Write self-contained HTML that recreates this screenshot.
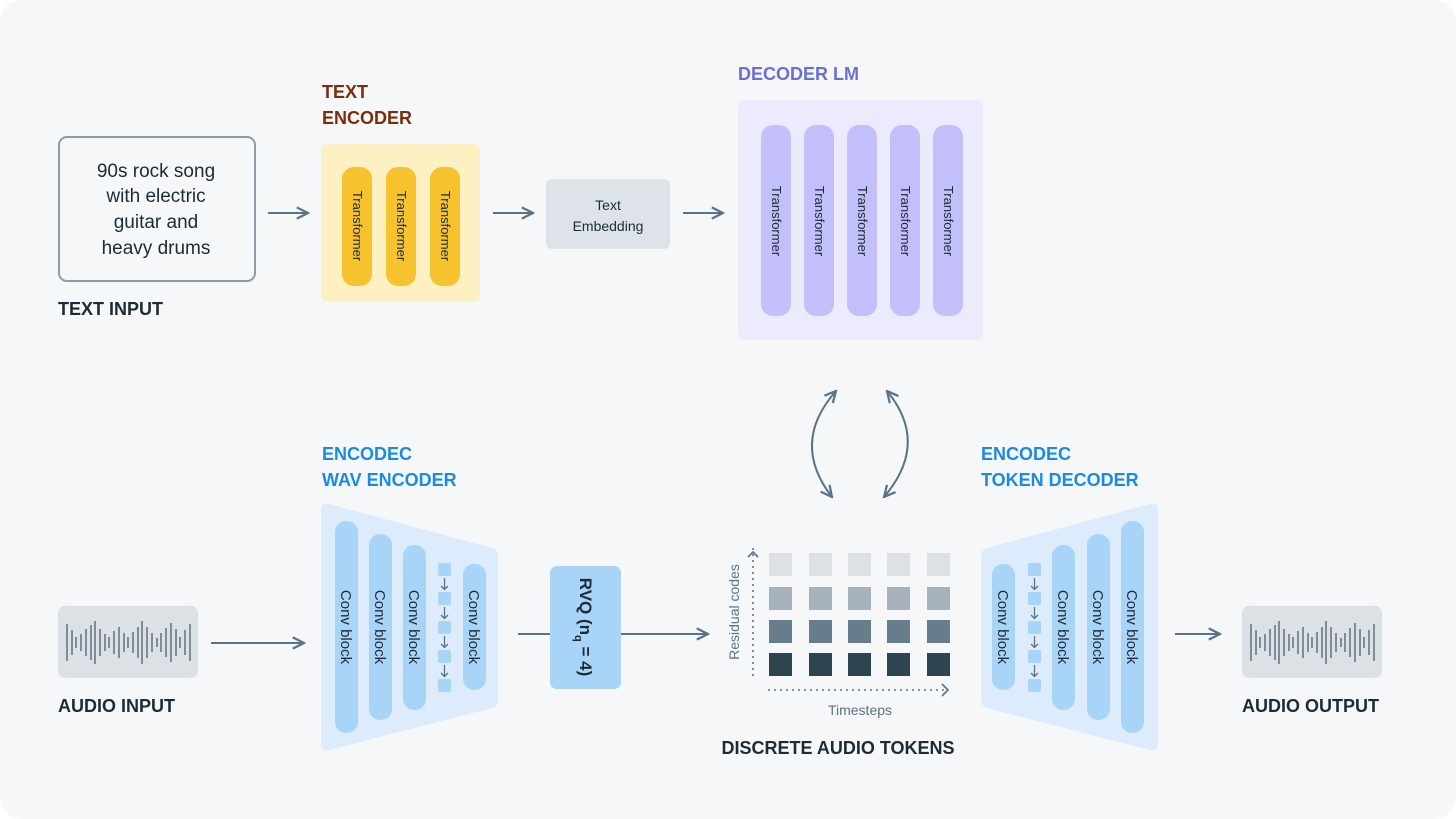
<!DOCTYPE html>
<html><head><meta charset="utf-8"><style>
html,body{margin:0;padding:0;background:#fff;width:1456px;height:819px;overflow:hidden}
svg{display:block;font-family:"Liberation Sans",sans-serif}
.h{font-weight:bold;font-size:18px}
</style></head><body>
<svg width="1456" height="819" viewBox="0 0 1456 819" xmlns="http://www.w3.org/2000/svg">
<defs>
<marker id="ah" viewBox="0 0 10 10" refX="9" refY="5" markerWidth="14" markerHeight="14" markerUnits="userSpaceOnUse" orient="auto-start-reverse">
<path d="M1,1 L9,5 L1,9" fill="none" stroke="#5a7385" stroke-width="1.6"/>
</marker>
</defs>
<rect x="0" y="0" width="1456" height="819" rx="22" fill="#f5f7f9"/>

<!-- text input -->
<rect x="59" y="137" width="196" height="144" rx="8" fill="none" stroke="#8a9cab" stroke-width="2"/>
<g font-size="19" fill="#1c2b36" text-anchor="middle">
<text x="156" y="177">90s rock song</text>
<text x="156" y="202">with electric</text>
<text x="156" y="228">guitar and</text>
<text x="156" y="254">heavy drums</text>
</g>
<text x="58" y="315" class="h" fill="#1c2b36">TEXT INPUT</text>
<line x1="268" y1="213" x2="308" y2="213" stroke="#5a7385" stroke-width="2" marker-end="url(#ah)"/>

<!-- text encoder -->
<text x="322" y="98" class="h" fill="#7a2e0e">TEXT</text>
<text x="322" y="124" class="h" fill="#7a2e0e">ENCODER</text>
<rect x="321" y="144" width="159" height="158" rx="6" fill="#fdf1c3"/>
<g fill="#f6c22d">
<rect x="342" y="167" width="30" height="119" rx="12"/>
<rect x="386" y="167" width="30" height="119" rx="12"/>
<rect x="430" y="167" width="30" height="119" rx="12"/>
</g>
<g font-size="13" fill="#1c2b36" text-anchor="middle">
<text transform="translate(353,226) rotate(90)">Transformer</text>
<text transform="translate(397,226) rotate(90)">Transformer</text>
<text transform="translate(441,226) rotate(90)">Transformer</text>
</g>
<line x1="493" y1="213" x2="533" y2="213" stroke="#5a7385" stroke-width="2" marker-end="url(#ah)"/>

<rect x="546" y="179" width="124" height="70" rx="6" fill="#dde3e8"/>
<text x="608" y="210" font-size="14" fill="#1c2b36" text-anchor="middle">Text</text>
<text x="608" y="231" font-size="14" fill="#1c2b36" text-anchor="middle">Embedding</text>
<line x1="683" y1="213" x2="723" y2="213" stroke="#5a7385" stroke-width="2" marker-end="url(#ah)"/>

<!-- decoder LM -->
<text x="738" y="80" class="h" fill="#6a70d2">DECODER LM</text>
<rect x="738" y="100" width="245" height="240" rx="6" fill="#ebebfd"/>
<g fill="#c2bffa">
<rect x="761" y="125" width="30" height="191" rx="12"/>
<rect x="804" y="125" width="30" height="191" rx="12"/>
<rect x="847" y="125" width="30" height="191" rx="12"/>
<rect x="890" y="125" width="30" height="191" rx="12"/>
<rect x="933" y="125" width="30" height="191" rx="12"/>
</g>
<g font-size="13" fill="#1c2b36" text-anchor="middle">
<text transform="translate(772,221) rotate(90)">Transformer</text>
<text transform="translate(815,221) rotate(90)">Transformer</text>
<text transform="translate(858,221) rotate(90)">Transformer</text>
<text transform="translate(901,221) rotate(90)">Transformer</text>
<text transform="translate(944,221) rotate(90)">Transformer</text>
</g>

<!-- curved arrows -->
<path d="M836,391 Q790,443 832,497" fill="none" stroke="#5a7385" stroke-width="2" marker-start="url(#ah)" marker-end="url(#ah)"/>
<path d="M887,391 Q930,443 884,497" fill="none" stroke="#5a7385" stroke-width="2" marker-start="url(#ah)" marker-end="url(#ah)"/>

<!-- encodec labels -->
<text x="322" y="460" class="h" fill="#1a8be0">ENCODEC</text>
<text x="322" y="486" class="h" fill="#1a8be0">WAV ENCODER</text>
<text x="981" y="460" class="h" fill="#1a8be0">ENCODEC</text>
<text x="981" y="486" class="h" fill="#1a8be0">TOKEN DECODER</text>

<!-- trapezoids -->
<path d="M321,510 Q321,502 329,504 L492,548 Q498,550 498,556 L498,700 Q498,706 492,708 L329,750 Q321,752 321,744 Z" fill="#dcecfc"/>
<path d="M981,556 Q981,550 987,548 L1150,504 Q1158,502 1158,510 L1158,744 Q1158,752 1150,750 L987,708 Q981,706 981,700 Z" fill="#dcecfc"/>

<g fill="#a8d4f8">
<rect x="335" y="521" width="23" height="212" rx="11"/>
<rect x="369" y="534" width="23" height="186" rx="11"/>
<rect x="403" y="545" width="23" height="165" rx="11"/>
<rect x="463" y="564" width="23" height="126" rx="11"/>
<rect x="992" y="564" width="23" height="126" rx="11"/>
<rect x="1052" y="545" width="23" height="165" rx="11"/>
<rect x="1087" y="534" width="23" height="186" rx="11"/>
<rect x="1121" y="521" width="23" height="212" rx="11"/>
<rect x="438" y="563" width="13" height="13" rx="2"/>
<rect x="438" y="592" width="13" height="13" rx="2"/>
<rect x="438" y="621" width="13" height="13" rx="2"/>
<rect x="438" y="650" width="13" height="13" rx="2"/>
<rect x="438" y="679" width="13" height="13" rx="2"/>
<rect x="1028" y="563" width="13" height="13" rx="2"/>
<rect x="1028" y="592" width="13" height="13" rx="2"/>
<rect x="1028" y="621" width="13" height="13" rx="2"/>
<rect x="1028" y="650" width="13" height="13" rx="2"/>
<rect x="1028" y="679" width="13" height="13" rx="2"/>
</g>
<g stroke="#5a7385" stroke-width="1.3" fill="none">
<path d="M444.5,578v11M441,586l3.5,3.5l3.5,-3.5"/>
<path d="M444.5,607v11M441,615l3.5,3.5l3.5,-3.5"/>
<path d="M444.5,636v11M441,644l3.5,3.5l3.5,-3.5"/>
<path d="M444.5,665v11M441,673l3.5,3.5l3.5,-3.5"/>
<path d="M1034.5,578v11M1031,586l3.5,3.5l3.5,-3.5"/>
<path d="M1034.5,607v11M1031,615l3.5,3.5l3.5,-3.5"/>
<path d="M1034.5,636v11M1031,644l3.5,3.5l3.5,-3.5"/>
<path d="M1034.5,665v11M1031,673l3.5,3.5l3.5,-3.5"/>
</g>
<g font-size="15" fill="#1c2b36" text-anchor="middle">
<text transform="translate(341,627) rotate(90)">Conv block</text>
<text transform="translate(375,627) rotate(90)">Conv block</text>
<text transform="translate(409,627) rotate(90)">Conv block</text>
<text transform="translate(469,627) rotate(90)">Conv block</text>
<text transform="translate(998,627) rotate(90)">Conv block</text>
<text transform="translate(1058,627) rotate(90)">Conv block</text>
<text transform="translate(1093,627) rotate(90)">Conv block</text>
<text transform="translate(1127,627) rotate(90)">Conv block</text>
</g>

<!-- RVQ -->
<line x1="518" y1="634" x2="550" y2="634" stroke="#5a7385" stroke-width="2"/>
<rect x="550" y="566" width="71" height="123" rx="7" fill="#a8d4f8"/>
<text transform="translate(580,627) rotate(90)" font-size="17" font-weight="bold" fill="#1c2b36" text-anchor="middle">RVQ (n<tspan font-size="11" dy="5">q</tspan><tspan dy="-5"> = 4)</tspan></text>
<line x1="621" y1="634" x2="708" y2="634" stroke="#5a7385" stroke-width="2" marker-end="url(#ah)"/>

<!-- tokens grid -->
<g fill="#dde1e5"><rect x="769" y="553" width="23" height="23"/><rect x="809" y="553" width="23" height="23"/><rect x="848" y="553" width="23" height="23"/><rect x="887" y="553" width="23" height="23"/><rect x="927" y="553" width="23" height="23"/></g>
<g fill="#a6b3bd"><rect x="769" y="587" width="23" height="23"/><rect x="809" y="587" width="23" height="23"/><rect x="848" y="587" width="23" height="23"/><rect x="887" y="587" width="23" height="23"/><rect x="927" y="587" width="23" height="23"/></g>
<g fill="#677d8b"><rect x="769" y="620" width="23" height="23"/><rect x="809" y="620" width="23" height="23"/><rect x="848" y="620" width="23" height="23"/><rect x="887" y="620" width="23" height="23"/><rect x="927" y="620" width="23" height="23"/></g>
<g fill="#2e4550"><rect x="769" y="653" width="23" height="23"/><rect x="809" y="653" width="23" height="23"/><rect x="848" y="653" width="23" height="23"/><rect x="887" y="653" width="23" height="23"/><rect x="927" y="653" width="23" height="23"/></g>
<line x1="753" y1="676" x2="753" y2="548" stroke="#5a7385" stroke-width="1.6" stroke-dasharray="2,4"/>
<path d="M748,557 L753,552 L758,557" fill="none" stroke="#5a7385" stroke-width="1.6"/>
<line x1="768" y1="690" x2="946" y2="690" stroke="#5a7385" stroke-width="1.6" stroke-dasharray="2,4"/>
<path d="M942,684 L948,690 L942,696" fill="none" stroke="#5a7385" stroke-width="1.6"/>
<text transform="translate(739,612) rotate(-90)" font-size="14" fill="#5a7385" text-anchor="middle">Residual codes</text>
<text x="860" y="715" font-size="14" fill="#5a7385" text-anchor="middle">Timesteps</text>
<text x="838" y="754" class="h" font-size="17" fill="#1c2b36" text-anchor="middle">DISCRETE AUDIO TOKENS</text>

<line x1="1175" y1="634" x2="1220" y2="634" stroke="#5a7385" stroke-width="2" marker-end="url(#ah)"/>

<!-- audio boxes -->
<rect x="58" y="606" width="140" height="72" rx="7" fill="#dde1e5"/>
<rect x="1242" y="606" width="140" height="72" rx="7" fill="#dde1e5"/>
<g stroke="#7d8e9b" stroke-width="2">
<path id="wv" d="M67,624v37M72,630v25M76,637v11M81,634v17M86,629v27M91,625v35M95,621v43M100,629v27M105,634v17M109,637v11M114,631v23M119,627v31M124,633v19M128,637v11M133,632v21M138,627v31M142,621v43M147,627v31M152,633v19M157,638v9M161,633v19M166,628v29M171,623v39M176,629v27M180,637v11M185,630v25M190,624v37"/>
<use href="#wv" transform="translate(1184,0)"/>
</g>
<line x1="211" y1="643" x2="304" y2="643" stroke="#5a7385" stroke-width="2" marker-end="url(#ah)"/>
<text x="58" y="712" class="h" fill="#1c2b36">AUDIO INPUT</text>
<text x="1242" y="712" class="h" fill="#1c2b36">AUDIO OUTPUT</text>
</svg>
</body></html>
